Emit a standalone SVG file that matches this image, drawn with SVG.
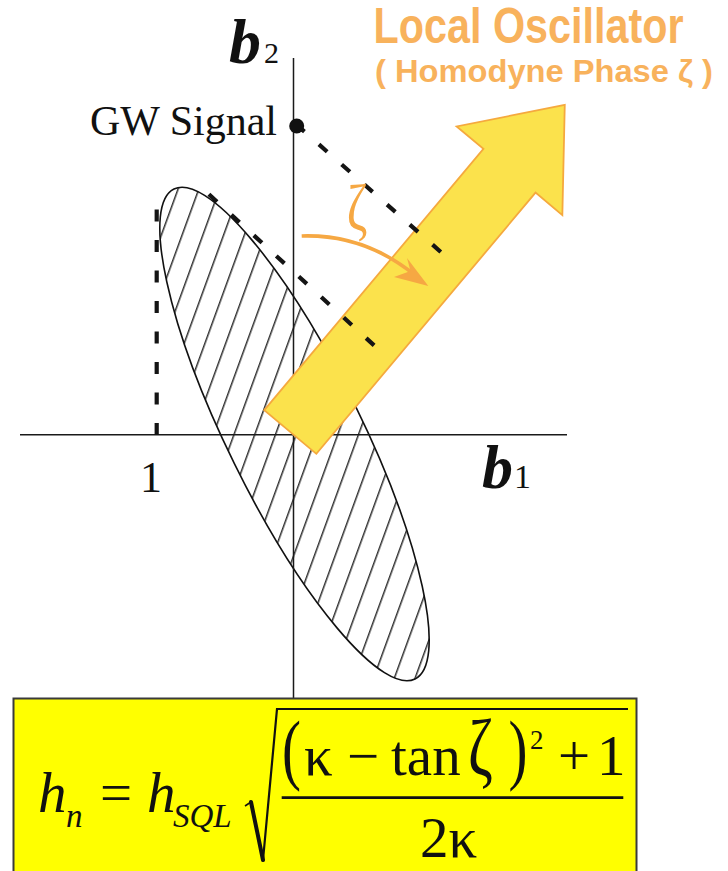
<svg xmlns="http://www.w3.org/2000/svg" width="728" height="871" viewBox="0 0 728 871">
<style>
.ax{stroke:#1a1a1a;stroke-width:1.5;fill:none}
.dash{stroke:#141414;stroke-width:4.2;fill:none}
.serif{font-family:"Liberation Serif","Times New Roman",serif;fill:#111}
.title{font-family:"Liberation Sans",Arial,sans-serif;font-weight:bold;fill:#F8B25C}
.orange{stroke:#F6A843;fill:none}
</style>
<defs>
<pattern id="hatch" patternUnits="userSpaceOnUse" width="19.5" height="19.5" patternTransform="rotate(-43.8)">
<line x1="11.5" y1="-1" x2="11.5" y2="20.5" stroke="#111" stroke-width="1.3"/>
</pattern>
</defs>
<rect x="0" y="0" width="728" height="871" fill="#ffffff"/>

<g id="ellipse">
<ellipse cx="294.5" cy="434" rx="273" ry="67" transform="rotate(63.8 294.5 434)" fill="url(#hatch)" stroke="#111" stroke-width="1.6"/>
</g>

<g id="axes">
<line class="ax" x1="20" y1="434.7" x2="567" y2="434.7"/>
<line class="ax" x1="293.5" y1="58" x2="293.5" y2="698"/>
</g>

<g id="lo-arrow">
<polygon transform="translate(290.3,432) rotate(-50)" points="0,-34 341,-34 341,-69 427,0 341,69 341,34 0,34" fill="#FBE24C" stroke="#F5A93E" stroke-width="1.8" stroke-linejoin="miter"/>
</g>

<g id="connectors">
<line class="dash" x1="156.7" y1="435" x2="156.7" y2="209.5" stroke-dasharray="12 18.5"/>
<line class="dash" x1="296.2" y1="124.4" x2="440.8" y2="252" stroke-dasharray="11 19.3"/>
<line class="dash" x1="208.9" y1="194.3" x2="374.1" y2="345.4" stroke-dasharray="11 19.44"/>
<path class="orange" d="M301.7,236 Q365,234 416,276" stroke-width="3.6"/>
<polygon points="428.3,286 407,258 410.5,271 394,277" fill="#F6A843"/>
</g>

<g id="gw-signal">
<circle cx="296.7" cy="126" r="7.5" fill="#111"/>
<text class="serif" x="277" y="135" font-size="42" text-anchor="end">GW Signal</text>
</g>

<g id="labels">
<text class="serif" x="229" y="63" font-size="64" font-weight="bold" font-style="italic">b</text>
<text class="serif" x="264" y="63" font-size="30">2</text>
<text class="serif" x="482" y="488" font-size="62" font-weight="bold" font-style="italic">b</text>
<text class="serif" x="514" y="488" font-size="34">1</text>
<text class="serif" x="140" y="491.5" font-size="44">1</text>
<text transform="translate(357,230) scale(1,1.3)" font-size="50" text-anchor="middle" font-family="Liberation Serif, serif" fill="#F6A843">ζ</text>
<text class="title" x="373.5" y="43.3" font-size="50" textLength="310" lengthAdjust="spacingAndGlyphs">Local Oscillator</text>
<text class="title" x="375" y="82" font-size="31" textLength="338" lengthAdjust="spacingAndGlyphs">( Homodyne Phase ζ )</text>
</g>

<g id="formula">
<rect x="13.5" y="698.5" width="623" height="180" fill="#FFFF00" stroke="#3a3a3a" stroke-width="2"/>
<g class="serif">
<text x="38" y="812" font-size="57" font-style="italic">h</text>
<text x="66" y="827" font-size="33" font-style="italic">n</text>
<text x="100" y="812" font-size="57">=</text>
<text x="147" y="812" font-size="57" font-style="italic">h</text>
<text x="173" y="827" font-size="33" font-style="italic">SQL</text>
<text transform="translate(282,775) scale(1,1.37)" font-size="57">(</text>
<text x="304" y="775" font-size="57">κ</text>
<text x="347" y="775" font-size="57">−</text>
<text x="391" y="775" font-size="57">tan</text>
<text transform="translate(468,775) scale(1,1.35)" font-size="60">ζ</text>
<text transform="translate(508.5,775) scale(1,1.37)" font-size="57">)</text>
<text x="530" y="749" font-size="27">2</text>
<text x="558" y="775" font-size="57">+</text>
<text x="597" y="775" font-size="57">1</text>
<text x="420" y="857" font-size="57">2κ</text>
</g>
<polyline points="245,806 251,802" stroke="#111" stroke-width="1.6" fill="none"/>
<line x1="251" y1="802" x2="263" y2="860" stroke="#111" stroke-width="4" stroke-linecap="round"/>
<polyline points="263,860 277,709 628,709" stroke="#111" stroke-width="2.2" fill="none"/>
<line x1="281.7" y1="797.7" x2="623.3" y2="797.7" stroke="#111" stroke-width="2.8"/>
</g>
</svg>
